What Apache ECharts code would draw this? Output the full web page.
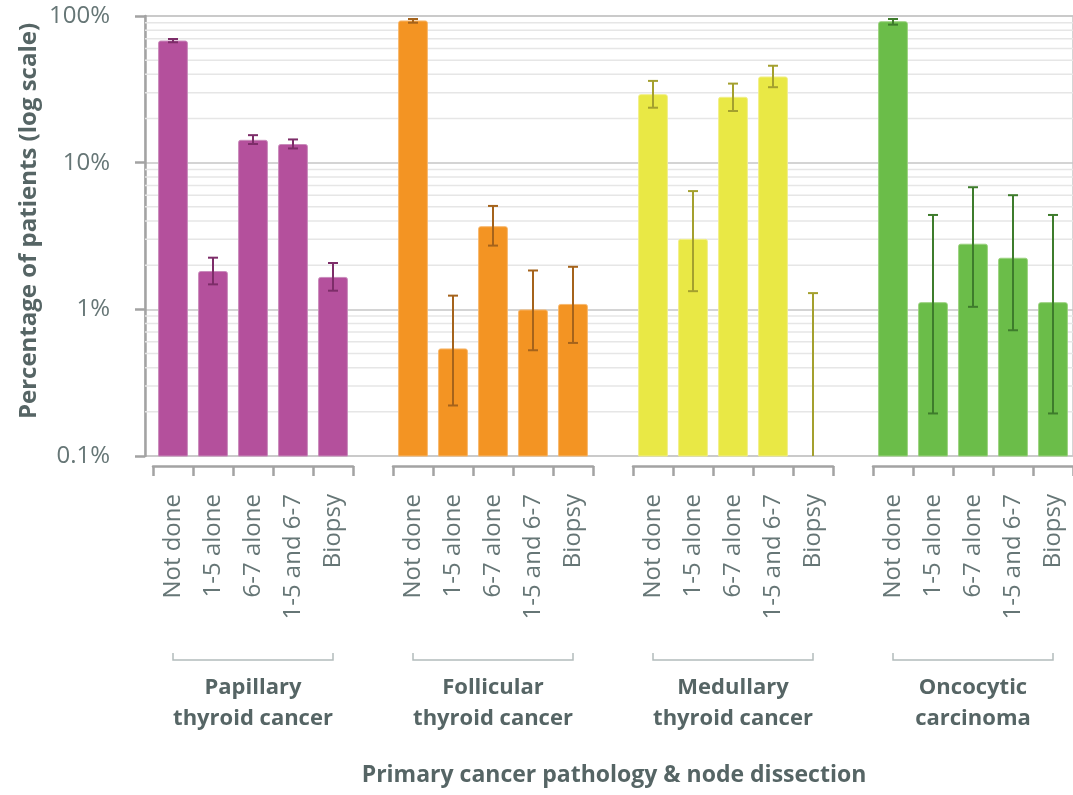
<!DOCTYPE html>
<html>
<head>
<meta charset="utf-8">
<script src="https://cdn.jsdelivr.net/npm/echarts@6/dist/echarts.min.js"></script>
<style>html,body{margin:0;padding:0;background:#fff}#c{width:1073px;height:795px}</style>
</head>
<body>
<div id="c"></div>
<script>
// ---- data ----
const groups = ['Papillary\nthyroid cancer', 'Follicular\nthyroid cancer', 'Medullary\nthyroid cancer', 'Oncocytic\ncarcinoma'];
const dissections = ['Not done', '1-5 alone', '6-7 alone', '1-5 and 6-7', 'Biopsy'];
const papillary     = [67.5, 1.81, 14.2, 13.3, 1.65];
const papillaryLow  = [66.2, 1.48, 13.4, 12.5, 1.34];
const papillaryHigh = [69.7, 2.25, 15.4, 14.4, 2.07];
const follicular     = [92.5, 0.537, 3.66, 0.99, 1.08];
const follicularLow  = [90.0, 0.221, 2.72, 0.526, 0.59];
const follicularHigh = [95.4, 1.24, 5.07, 1.84, 1.95];
const medullary     = [29.1, 3.0, 27.9, 38.4, 0];
const medullaryLow  = [23.7, 1.33, 22.5, 32.7, 0];
const medullaryHigh = [36.1, 6.4, 34.6, 45.8, 1.29];
const oncocytic     = [91.4, 1.11, 2.78, 2.23, 1.11];
const oncocyticLow  = [87.3, 0.195, 1.04, 0.72, 0.195];
const oncocyticHigh = [95.4, 4.4, 6.8, 6.0, 4.4];
const minorTicks = [0.2,0.3,0.4,0.5,0.6,0.7,0.8,0.9, 2,3,4,5,6,7,8,9, 20,30,40,50,60,70,80,90];

const values = [papillary, follicular, medullary, oncocytic];
const lows = [papillaryLow, follicularLow, medullaryLow, oncocyticLow];
const highs = [papillaryHigh, follicularHigh, medullaryHigh, oncocyticHigh];

// ---- style ----
const FONT = 'Open Sans';
const barColors = ['#b4509c', '#f39423', '#e9e845', '#6bbd49'];
const barEdge = ['#c98bbb', '#f7b86e', '#f1ef8a', '#9bd27f'];
const errColors = ['#7d2d69', '#a5631b', '#a4a02e', '#3e7c2c'];
const textCol = '#667676';
const titleCol = '#566565';
const axisCol = '#a3a3a3';
const AXMIN = 0.1, AXMAX = 100;

const grid = [{ left: 145, top: 16, right: -3, height: 440, show: true, borderColor: '#c8c8c8', borderWidth: 1.5 }];
const xAxis = [{ gridIndex: 0, type: 'value', min: 0, max: 1, show: false }];
const yAxis = [{
  gridIndex: 0, type: 'log', logBase: 10, min: AXMIN, max: AXMAX, offset: 10,
  axisLine: { show: true, lineStyle: { color: axisCol, width: 2.5 } },
  axisTick: { show: true, length: 10, lineStyle: { color: axisCol, width: 2.5 } },
  axisLabel: { margin: 25, fontSize: 24, color: textCol, fontFamily: FONT,
    formatter: v => Number(v.toPrecision(3)) + '%' },
  splitLine: { show: true, lineStyle: { color: '#c6c6c6', width: 1.5 } }
}];

const series = [{
  type: 'custom', xAxisIndex: 0, yAxisIndex: 0, silent: true, z: 1,
  data: minorTicks.map(v => [0.5, v]),
  renderItem: (params, api) => {
    const y = api.coord([0.5, api.value(1)])[1];
    const cs = params.coordSys;
    return { type: 'line', shape: { x1: cs.x, y1: y, x2: cs.x + cs.width, y2: y },
      style: { stroke: '#e6e6e6', lineWidth: 1.5 } };
  }
}];

groups.forEach((g, gi) => {
  grid.push({ left: 153 + 240 * gi, top: 16, width: 200, height: 440 });
  xAxis.push({
    gridIndex: gi + 1, type: 'category', data: dissections, offset: 10,
    axisLine: { show: true, lineStyle: { color: axisCol, width: 2.5 } },
    axisTick: { show: true, length: 10, lineStyle: { color: axisCol, width: 2.5 } },
    axisLabel: { rotate: 90, margin: 28, interval: 0, fontSize: 24, color: textCol, fontFamily: FONT },
    splitLine: { show: false },
    name: g, nameLocation: 'middle', nameGap: 206,
    nameTextStyle: { fontSize: 22, fontWeight: 'bold', color: titleCol, fontFamily: FONT, lineHeight: 31 }
  });
  yAxis.push({ gridIndex: gi + 1, type: 'log', logBase: 10, min: AXMIN, max: AXMAX, show: false });

  // bars
  series.push({
    type: 'custom', xAxisIndex: gi + 1, yAxisIndex: gi + 1, z: 5,
    data: values[gi].map((v, i) => [i, v]),
    renderItem: (params, api) => {
      const i = api.value(0), v = api.value(1);
      if (!(v > 0)) return;
      const top = api.coord([i, v]);
      const base = api.coord([i, AXMIN]);
      const w = api.size([1, 1])[0] * 0.72;
      return { type: 'rect',
        shape: { x: top[0] - w / 2, y: top[1], width: w, height: base[1] - top[1], r: [2, 2, 0, 0] },
        style: { fill: barColors[gi], stroke: barEdge[gi], lineWidth: 1 } };
    }
  });
  // error bars
  series.push({
    type: 'custom', xAxisIndex: gi + 1, yAxisIndex: gi + 1, z: 6,
    data: lows[gi].map((lo, i) => [i, lo, highs[gi][i]]),
    renderItem: (params, api) => {
      const i = api.value(0);
      const lo = api.value(1);
      const hi = api.value(2);
      const loClamped = lo > AXMIN ? lo : AXMIN;
      const p1 = api.coord([i, hi]);
      const p2 = api.coord([i, loClamped]);
      const cw = 5;
      const st = { stroke: errColors[gi], lineWidth: 2 };
      const children = [
        { type: 'line', shape: { x1: p1[0], y1: p1[1], x2: p2[0], y2: p2[1] }, style: st },
        { type: 'line', shape: { x1: p1[0] - cw, y1: p1[1], x2: p1[0] + cw, y2: p1[1] }, style: st }
      ];
      if (lo > AXMIN) children.push({ type: 'line', shape: { x1: p2[0] - cw, y1: p2[1], x2: p2[0] + cw, y2: p2[1] }, style: st });
      return { type: 'group', children };
    }
  });
  // group bracket
  series.push({
    type: 'custom', xAxisIndex: gi + 1, yAxisIndex: gi + 1, z: 3, silent: true, clip: false,
    data: [[0, dissections.length - 1]],
    renderItem: (params, api) => {
      const a = api.coord([api.value(0), AXMIN]);
      const b = api.coord([api.value(1), AXMIN]);
      const y = a[1] + 204;
      return { type: 'polyline',
        shape: { points: [[a[0], y - 7], [a[0], y], [b[0], y], [b[0], y - 7]] },
        style: { stroke: '#b3bcbc', lineWidth: 1.5, fill: null } };
    }
  });
});

const chart = echarts.init(document.getElementById('c'), null, { renderer: 'canvas' });
chart.setOption({
  animation: false,
  backgroundColor: '#ffffff',
  grid, xAxis, yAxis, series,
  graphic: [{
    type: 'text', x: 614, y: 775,
    style: { text: 'Primary cancer pathology & node dissection', textAlign: 'center', textVerticalAlign: 'middle',
      fontSize: 23, fontWeight: 'bold', fontFamily: FONT, fill: titleCol }
  }, {
    type: 'text', x: 29, y: 221, rotation: Math.PI / 2,
    style: { text: 'Percentage of patients (log scale)', textAlign: 'center', textVerticalAlign: 'middle',
      fontSize: 24, fontWeight: 'bold', fontFamily: FONT, fill: titleCol }
  }]
});
</script>
</body>
</html>
